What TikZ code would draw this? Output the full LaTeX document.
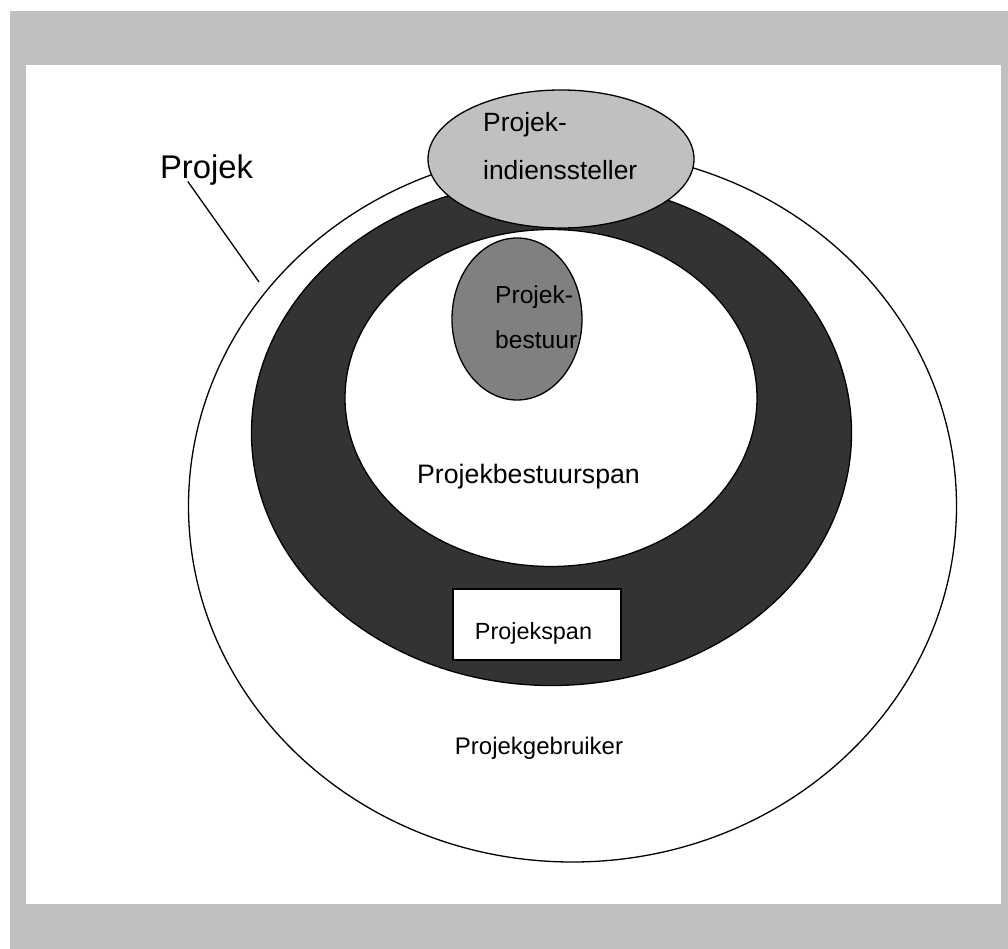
\documentclass[tikz,border=0pt]{standalone}
\usepackage{fontspec}
\setmainfont{Liberation Sans}
\usetikzlibrary{shapes.geometric}
\definecolor{framegray}{RGB}{192,192,192}
\definecolor{darkband}{RGB}{51,51,51}
\definecolor{midgray}{RGB}{128,128,128}
\tikzset{
  ell/.style={ellipse, draw=black, line width=1.3pt, inner sep=0pt},
  lbl/.style={inner sep=0pt, font=\fontsize{26.4}{30}\selectfont, text=black},
}
\begin{document}
\begin{tikzpicture}[x=1pt,y=-1pt]
\useasboundingbox (0,0) rectangle (1008,949);
\fill[framegray] (10,11) rectangle (1008,949);
\fill[white] (26,65) rectangle (1001,904);
% outer ellipse
\node[ell, fill=white, minimum width=768pt, minimum height=712pt] (outer) at (572.5,506) {};
% dark band
\node[ell, fill=darkband, minimum width=600pt, minimum height=505pt] (band) at (551.5,433) {};
% inner white
\node[ell, fill=white, minimum width=412pt, minimum height=337pt] (inner) at (551,398) {};
% bestuur
\node[ell, fill=midgray, minimum width=130pt, minimum height=162pt] (bestuur) at (517,319) {};
% indienssteller
\node[ell, fill=framegray, minimum width=266pt, minimum height=138pt] (indien) at (561,159) {};
% projekspan box
\node[draw=black, fill=white, line width=1.3pt, minimum width=168pt, minimum height=71pt, inner sep=0pt] (span) at (537,624.5) {};
% texts
\node[lbl, anchor=west] (t1) at (483,125) {Projek-};
\node[lbl, anchor=west] (t2) at (483,170) {indienssteller};
\node[lbl, anchor=west, font=\fontsize{24.6}{28}\selectfont] (t3) at (495,297) {Projek-};
\node[lbl, anchor=west, font=\fontsize{24.6}{28}\selectfont] (t4) at (495,340) {bestuur};
\node[lbl, font=\fontsize{26.7}{30}\selectfont] (t5) at (528.5,477) {Projekbestuurspan};
\node[lbl, font=\fontsize{23.4}{28}\selectfont] (t6) at (533.5,633) {Projekspan};
\node[lbl, font=\fontsize{24}{28}\selectfont] (t7) at (539,748) {Projekgebruiker};
\node[lbl, font=\fontsize{32.8}{38}\selectfont] (proj) at (206.5,170) {Projek};
\coordinate (tip) at (259,282);
\draw[line width=1.3pt] (proj.south west) ++(28,-4) -- (tip);
\end{tikzpicture}
\end{document}
